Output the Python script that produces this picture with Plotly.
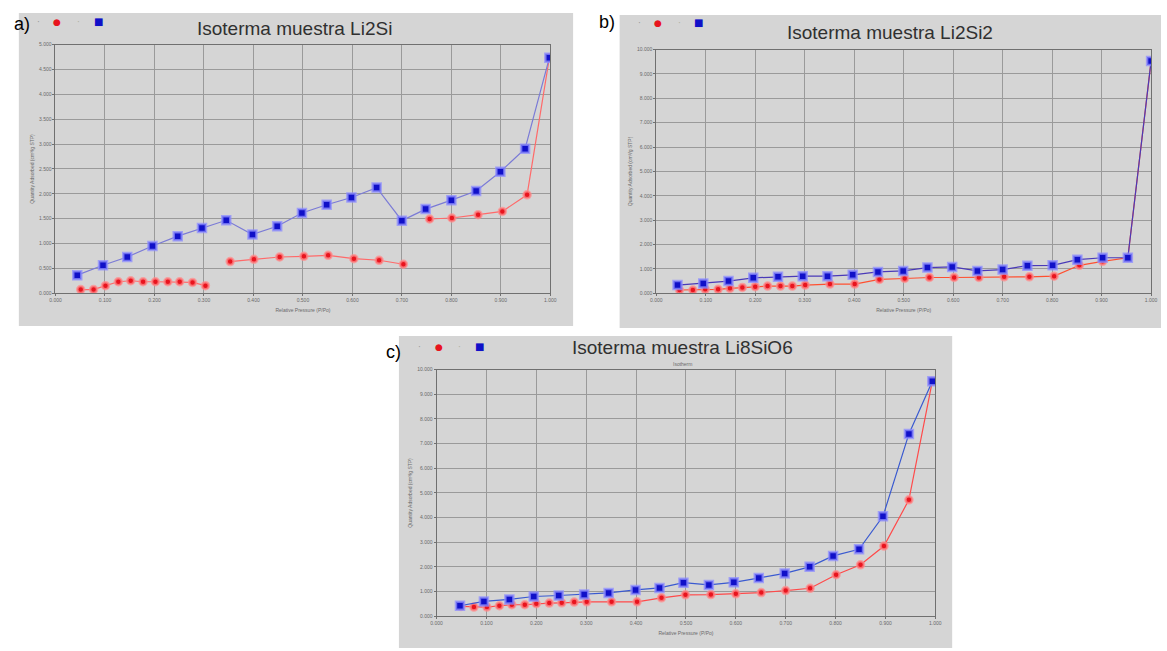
import plotly.graph_objects as go

W, H = 1167, 651

# ---------------- data ----------------
# Panel a) Isoterma muestra Li2Si
a_blue_x = [0.044, 0.096, 0.145, 0.196, 0.247, 0.296, 0.345, 0.398, 0.448, 0.498,
            0.548, 0.598, 0.649, 0.700, 0.748, 0.800, 0.850, 0.899, 0.949, 0.998]
a_blue_y = [0.365, 0.564, 0.730, 0.950, 1.149, 1.315, 1.468, 1.182, 1.348, 1.614,
            1.780, 1.926, 2.125, 1.461, 1.693, 1.873, 2.058, 2.444, 2.908, 4.734]
a_red_x = [0.051, 0.077, 0.101, 0.127, 0.152, 0.177, 0.202, 0.227, 0.251, 0.277, 0.303, None,
           0.353, 0.401, 0.453, 0.502, 0.551, 0.603, 0.654, 0.703, None,
           0.756, 0.801, 0.854, 0.903, 0.953, 0.998]
a_red_y = [0.075, 0.075, 0.153, 0.232, 0.252, 0.232, 0.232, 0.232, 0.232, 0.219, 0.153, None,
           0.637, 0.684, 0.730, 0.744, 0.764, 0.697, 0.664, 0.584, None,
           1.494, 1.514, 1.580, 1.647, 1.979, 4.734]

# Panel b) Isoterma muestra Li2Si2
b_blue_x = [0.043, 0.095, 0.146, 0.196, 0.246, 0.296, 0.346, 0.397, 0.448, 0.499,
            0.548, 0.598, 0.649, 0.700, 0.750, 0.801, 0.851, 0.902, 0.953, 1.000]
b_blue_y = [0.338, 0.405, 0.500, 0.635, 0.676, 0.703, 0.703, 0.757, 0.878, 0.919,
            1.054, 1.081, 0.919, 0.973, 1.135, 1.149, 1.378, 1.459, 1.459, 9.527]
b_red_x = [0.047, 0.074, 0.099, 0.125, 0.149, 0.174, 0.200, 0.225, 0.251, 0.275, 0.301,
           0.351, 0.401, 0.451, 0.502, 0.552, 0.602, 0.652, 0.703, 0.754, 0.804,
           0.855, 0.902, 0.953, 1.000]
b_red_y = [0.135, 0.135, 0.162, 0.162, 0.203, 0.243, 0.270, 0.297, 0.297, 0.297, 0.338,
           0.378, 0.378, 0.568, 0.608, 0.649, 0.649, 0.649, 0.676, 0.676, 0.703,
           1.149, 1.311, 1.459, 9.527]

# Panel c) Isoterma muestra Li8SiO6
c_blue_x = [0.047, 0.095, 0.146, 0.195, 0.245, 0.296, 0.345, 0.399, 0.447, 0.495,
            0.546, 0.596, 0.646, 0.698, 0.748, 0.795, 0.847, 0.895, 0.947, 0.994]
c_blue_y = [0.428, 0.602, 0.682, 0.802, 0.842, 0.882, 0.949, 1.070, 1.150, 1.364,
            1.270, 1.377, 1.551, 1.738, 2.005, 2.447, 2.714, 4.051, 7.393, 9.532]
c_red_x = [0.049, 0.075, 0.101, 0.126, 0.151, 0.177, 0.200, 0.226, 0.251, 0.276, 0.301,
           0.351, 0.402, 0.451, 0.499, 0.550, 0.600, 0.651, 0.700, 0.749, 0.801,
           0.850, 0.897, 0.947, 0.994]
c_red_y = [0.401, 0.374, 0.374, 0.428, 0.468, 0.468, 0.508, 0.535, 0.548, 0.575, 0.588,
           0.588, 0.588, 0.749, 0.869, 0.882, 0.909, 0.963, 1.043, 1.136, 1.684,
           2.086, 2.848, 4.719, 9.532]

x_ticks = [0.0, 0.1, 0.2, 0.3, 0.4, 0.5, 0.6, 0.7, 0.8, 0.9, 1.0]
x_ticklabels = ["0.000", "0.100", "0.200", "0.300", "0.400", "0.500",
                "0.600", "0.700", "0.800", "0.900", "1.000"]
a_y_ticks = [0.0, 0.5, 1.0, 1.5, 2.0, 2.5, 3.0, 3.5, 4.0, 4.5, 5.0]
a_y_ticklabels = ["0.000", "0.500", "1.000", "1.500", "2.000", "2.500",
                  "3.000", "3.500", "4.000", "4.500", "5.000"]
bc_y_ticks = [0, 1, 2, 3, 4, 5, 6, 7, 8, 9, 10]
bc_y_ticklabels = ["0.000", "1.000", "2.000", "3.000", "4.000", "5.000",
                   "6.000", "7.000", "8.000", "9.000", "10.000"]

titles = ["Isoterma muestra Li2Si", "Isoterma muestra Li2Si2", "Isoterma muestra Li8SiO6"]
x_title = "Relative Pressure (P/Po)"
y_title = "Quantity Adsorbed (cm³/g STP)"

# ---------------- layout geometry (pixels) ----------------
def fx(p):
    return p / W

def fy(p):
    return 1 - p / H

# plot areas: (left, right, top, bottom)
areas = {
    "a": (50, 550, 42, 293),
    "b": (657, 1157, 47, 293),
    "c": (435, 939, 370, 619),
}
# panel grey boxes
boxes = {
    "a": (13, 573, 10, 326),
    "b": (620, 1167, 12, 328),
    "c": (397, 956, 336, 651),
}

fig = go.Figure()

RED = "#e8141e"
BLUE = "#1010c8"

def add_pair(bx, by, rx, ry, xa, ya, blue_line, red_line):
    fig.add_trace(go.Scatter(
        x=rx, y=ry, xaxis=xa, yaxis=ya, mode="lines+markers",
        line=dict(color=red_line, width=1.2),
        marker=dict(color=RED, size=7, symbol="circle",
                    line=dict(color="rgba(255,140,140,0.75)", width=2.5)),
        connectgaps=False, showlegend=False))
    fig.add_trace(go.Scatter(
        x=bx, y=by, xaxis=xa, yaxis=ya, mode="lines+markers",
        line=dict(color=blue_line, width=1.2),
        marker=dict(color=BLUE, size=8, symbol="square",
                    line=dict(color="rgba(140,140,255,0.75)", width=2.5)),
        showlegend=False))

add_pair(a_blue_x, a_blue_y, a_red_x, a_red_y, "x", "y", "#7b7bd6", "#ff6a6a")
add_pair(b_blue_x, b_blue_y, b_red_x, b_red_y, "x2", "y2", "#4a3ab8", "#ff5030")
add_pair(c_blue_x, c_blue_y, c_red_x, c_red_y, "x3", "y3", "#3a5ad0", "#ff4a4a")

BG = "#d5d5d5"
GRID = "#9a9a9a"
TICKFONT = dict(family="Liberation Sans, Arial", size=5, color="#6a6a6a")
TITLEFONT = dict(family="Liberation Sans, Arial", size=5, color="#6a6a6a")

def xaxis(key, anchor):
    l, r, t, b = areas[key]
    return dict(domain=[fx(l), fx(r)], anchor=anchor, range=[0, 1.0],
                tickvals=x_ticks, ticktext=x_ticklabels, tickfont=TICKFONT,
                showgrid=True, gridcolor=GRID, gridwidth=1,
                showline=True, linecolor="#707070", linewidth=1, mirror=True,
                ticks="outside", ticklen=2, tickcolor="#707070", zeroline=False,
                title=dict(text=x_title, font=TITLEFONT, standoff=6))

def yaxis(key, anchor, rng, tv, tt):
    l, r, t, b = areas[key]
    return dict(domain=[fy(b), fy(t)], anchor=anchor, range=rng,
                tickvals=tv, ticktext=tt, tickfont=TICKFONT,
                showgrid=True, gridcolor=GRID, gridwidth=1,
                showline=True, linecolor="#707070", linewidth=1, mirror=True,
                ticks="outside", ticklen=2, tickcolor="#707070", zeroline=False,
                title=dict(text=y_title, font=TITLEFONT, standoff=4))

shapes = []
for key, (l, r, t, b) in boxes.items():
    shapes.append(dict(type="rect", xref="paper", yref="paper",
                       x0=fx(l), x1=fx(r), y0=fy(b), y1=fy(t),
                       fillcolor=BG, line=dict(width=0), layer="below"))

annotations = []
title_pos = {"a": (292, 26), "b": (893, 30), "c": (684, 348)}
label_pos = {"a": (16, 21), "b": (607, 19), "c": (392, 352)}
legend_pos = {"a": (33, 19), "b": (640, 20), "c": (418, 347)}
for key, ttl in zip(["a", "b", "c"], titles):
    x, y = title_pos[key]
    annotations.append(dict(xref="paper", yref="paper", x=fx(x), y=fy(y),
                            text=ttl, showarrow=False, xanchor="center", yanchor="middle",
                            font=dict(family="Liberation Sans, Arial", size=19, color="#303030")))
    x, y = label_pos[key]
    annotations.append(dict(xref="paper", yref="paper", x=fx(x), y=fy(y),
                            text=key + ")", showarrow=False, xanchor="center", yanchor="middle",
                            font=dict(family="Liberation Sans, Arial", size=18, color="#000000")))
    x, y = legend_pos[key]
    items = [("·", "#9a9a9a", 9, 0), ("●", RED, 9, 19), ("·", "#b0b0a0", 9, 40), ("■", BLUE, 10, 60)]
    for txt, col, sz, dx in items:
        annotations.append(dict(xref="paper", yref="paper", x=fx(x + dx), y=fy(y),
                                text=txt, showarrow=False, xanchor="center", yanchor="middle",
                                font=dict(family="DejaVu Sans", size=sz, color=col)))

annotations.append(dict(xref="paper", yref="paper", x=fx(684), y=fy(364),
                        text="Isotherm", showarrow=False, xanchor="center", yanchor="middle",
                        font=dict(family="Liberation Sans, Arial", size=5, color="#6a6a6a")))

fig.update_layout(
    width=W, height=H, autosize=False,
    margin=dict(l=0, r=0, t=0, b=0),
    paper_bgcolor="white", plot_bgcolor=BG,
    showlegend=False,
    xaxis=xaxis("a", "y"),
    yaxis=yaxis("a", "x", [0, 5], a_y_ticks, a_y_ticklabels),
    xaxis2=xaxis("b", "y2"),
    yaxis2=yaxis("b", "x2", [0, 10], bc_y_ticks, bc_y_ticklabels),
    xaxis3=xaxis("c", "y3"),
    yaxis3=yaxis("c", "x3", [0, 10], bc_y_ticks, bc_y_ticklabels),
    shapes=shapes,
    annotations=annotations,
)

fig.write_html(
    "out.html",
    config={"displayModeBar": False},
    post_script="document.body.style.margin='0';document.body.style.overflow='hidden';",
)
